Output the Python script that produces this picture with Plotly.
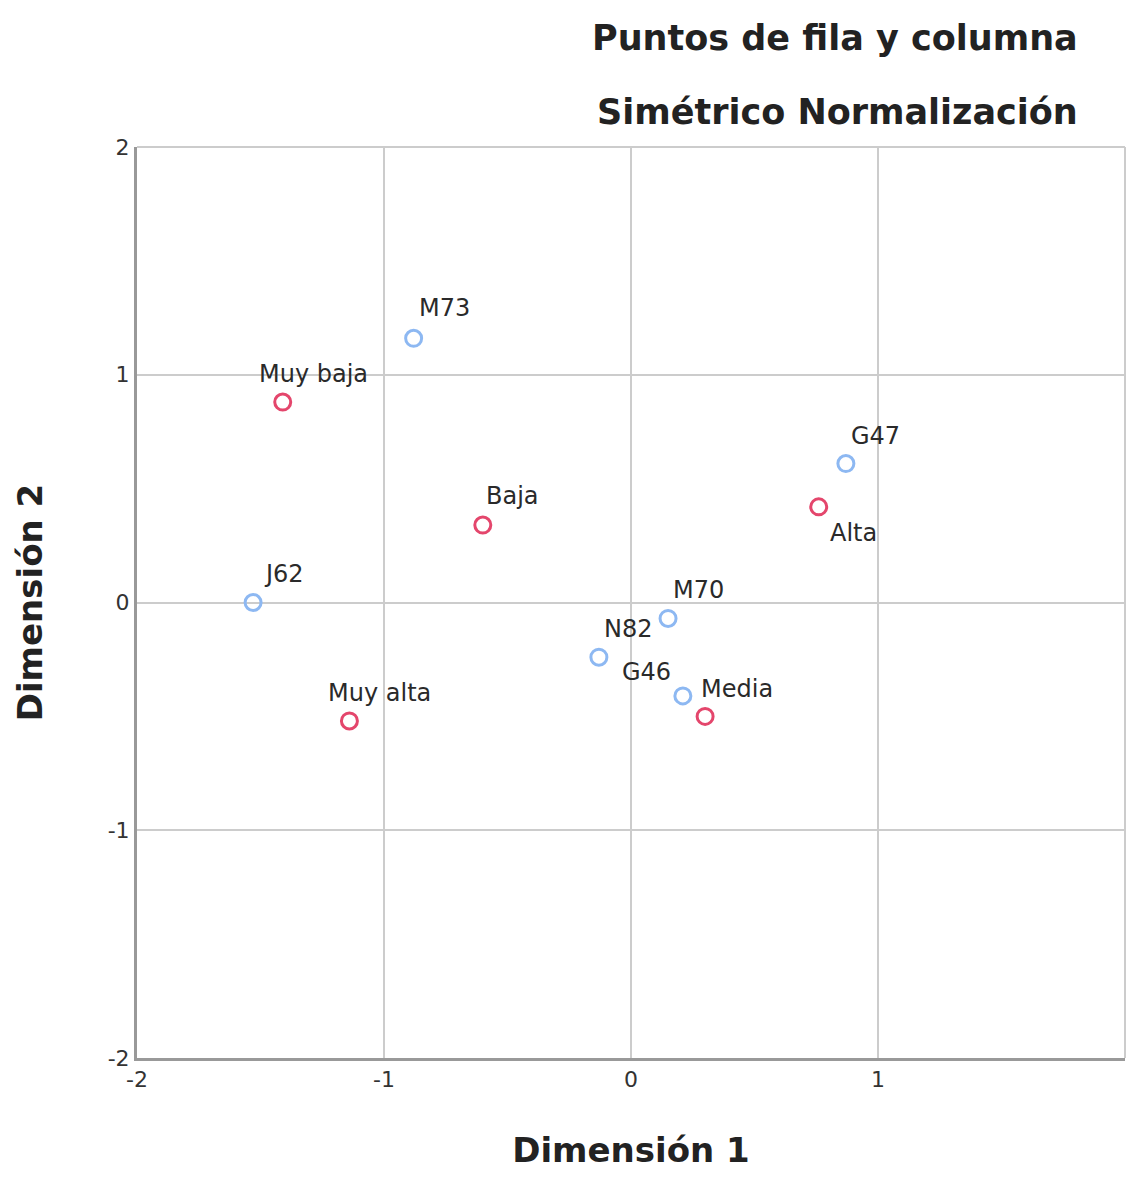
import plotly.graph_objects as go

# row points (Nivel)
row_labels = ["Muy baja", "Baja", "Media", "Alta", "Muy alta"]
row_dim1 = [-1.41, -0.60, 0.30, 0.76, -1.14]
row_dim2 = [0.88, 0.34, -0.50, 0.42, -0.52]

# column points (codes)
col_labels = ["M73", "G47", "J62", "M70", "N82", "G46"]
col_dim1 = [-0.88, 0.87, -1.53, 0.15, -0.13, 0.21]
col_dim2 = [1.16, 0.61, 0.00, -0.07, -0.24, -0.41]

ticks = [-2, -1, 0, 1, 2]
tick_text = ["-2", "-1", "0", "1", "2"]

# label offsets in px (xshift, yshift)
offsets = {
    "Muy baja": (31, 28), "Baja": (30, 29), "Media": (32, 27), "Alta": (35, -26),
    "Muy alta": (30, 28), "M73": (31, 30), "G47": (30, 28), "J62": (31, 29),
    "M70": (30, 28), "N82": (30, 28), "G46": (-36, 24),
}

RED = "#e4466c"
BLUE = "#8db8f2"
FONT = "DejaVu Sans, Arial, sans-serif"

W, H = 1119, 1162
ML, MR, MT, MB = 129, 2, 139, 112

fig = go.Figure()
fig.add_trace(go.Scatter(
    x=row_dim1, y=row_dim2, mode="markers", name="Fila",
    marker=dict(symbol="circle-open", size=16, color=RED, line=dict(width=3, color=RED)),
))
fig.add_trace(go.Scatter(
    x=col_dim1, y=col_dim2, mode="markers", name="Columna",
    marker=dict(symbol="circle-open", size=16, color=BLUE, line=dict(width=3, color=BLUE)),
))

annotations = []
for labels, xs, ys in [(row_labels, row_dim1, row_dim2), (col_labels, col_dim1, col_dim2)]:
    for lab, x, y in zip(labels, xs, ys):
        dx, dy = offsets[lab]
        annotations.append(dict(
            x=x, y=y, text=lab, showarrow=False, xshift=dx, yshift=dy,
            font=dict(family=FONT, size=24, color="#2a2a2a"),
        ))

# titles, placed in pixel terms then mapped to paper coords
pw = W - ML - MR
ph = H - MT - MB
for i, t in enumerate(["Puntos de fila y columna", "Simétrico Normalización"]):
    px, py = 1072, 30 + 74 * i
    annotations.append(dict(
        x=(px - ML) / pw, y=1 + (MT - py) / ph, xref="paper", yref="paper",
        xanchor="right", yanchor="middle", text="<b>%s</b>" % t,
        showarrow=False, font=dict(family=FONT, size=35, color="#222222"),
    ))

fig.update_layout(
    width=W, height=H,
    margin=dict(l=ML, r=MR, t=MT, b=MB),
    paper_bgcolor="white", plot_bgcolor="white",
    showlegend=False,
    font=dict(family=FONT, size=22, color="#333333"),
    annotations=annotations,
    shapes=[
        dict(type="line", xref="paper", yref="paper", x0=0, x1=1, y0=1, y1=1,
             line=dict(color="#cccccc", width=2), layer="below"),
        dict(type="line", xref="paper", yref="paper", x0=1, x1=1, y0=0, y1=1,
             line=dict(color="#cccccc", width=2), layer="below"),
    ],
)

fig.update_xaxes(
    range=[-2, 2], tickvals=ticks, ticktext=tick_text, showgrid=True, gridcolor="#cccccc", gridwidth=2,
    zeroline=False, showline=True, linecolor="#999999", linewidth=3,
    ticks="", tickfont=dict(size=22, color="#333333"),
    title=dict(text="<b>Dimensión 1</b>", font=dict(size=34, color="#222222"), standoff=50),
)
fig.update_yaxes(
    range=[-2, 2], tickvals=ticks, ticktext=tick_text, showgrid=True, gridcolor="#cccccc", gridwidth=2,
    zeroline=False, showline=True, linecolor="#999999", linewidth=3,
    ticks="", tickfont=dict(size=22, color="#333333"),
    title=dict(text="<b>Dimensión 2</b>", font=dict(size=34, color="#222222"), standoff=55),
)

fig.write_html("out.html")
